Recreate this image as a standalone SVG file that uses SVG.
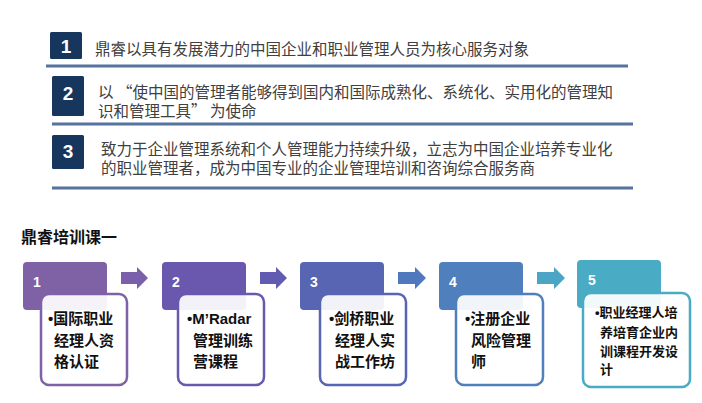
<svg xmlns="http://www.w3.org/2000/svg" width="702" height="403" viewBox="0 0 702 403">
<style>
.num{fill:#17365d}
.numt{fill:#fff;font-family:"Liberation Sans",Arial,sans-serif;font-size:19px;font-weight:bold;text-anchor:middle}
.rule{stroke:#56739f;stroke-width:3}
.txt{fill:#404040;font-family:"Noto Sans CJK SC","Noto Sans",sans-serif;font-size:15.5px}
.title{fill:#111;font-family:"Noto Sans CJK SC",sans-serif;font-size:16px;font-weight:bold}
.hnum{fill:#fff;font-family:"Liberation Sans",Arial,sans-serif;font-size:14px;font-weight:bold}
.card{fill:#fff;fill-opacity:0.92;stroke-width:2.5}
.ct{fill:#111;font-family:"Noto Sans CJK SC",sans-serif;font-size:15px;font-weight:bold}
.ct5{fill:#111;font-family:"Noto Sans CJK SC",sans-serif;font-size:13px;font-weight:bold}
.b{font-family:"Liberation Sans",Arial,sans-serif}
</style>
<rect width="702" height="403" fill="#fff"/>
<g id="item1">
<rect class="num" x="50" y="32" width="32" height="27" rx="1.5"/>
<text class="numt" x="66" y="53" font-weight="normal">1</text>
<text class="txt" x="95" y="55">鼎睿以具有发展潜力的中国企业和职业管理人员为核心服务对象</text>
<line class="rule" x1="46" y1="66" x2="628" y2="66"/>
</g>
<g id="item2">
<rect class="num" x="52" y="76" width="32" height="40" rx="1.5"/>
<text class="numt" x="68" y="100">2</text>
<text class="txt" x="98" y="98">以 “使中国的管理者能够得到国内和国际成熟化、系统化、实用化的管理知</text>
<text class="txt" x="98" y="117">识和管理工具” 为使命</text>
<line class="rule" x1="52" y1="124" x2="633" y2="124"/>
</g>
<g id="item3">
<rect class="num" x="52" y="135" width="32" height="34" rx="1.5"/>
<text class="numt" x="68" y="158">3</text>
<text class="txt" x="101" y="155">致力于企业管理系统和个人管理能力持续升级，立志为中国企业培养专业化</text>
<text class="txt" x="101" y="174">的职业管理者，成为中国专业的企业管理培训和咨询综合服务商</text>
<line class="rule" x1="52" y1="188" x2="633" y2="188"/>
</g>
<text class="title" x="21" y="243">鼎睿培训课一</text>
<g id="connectors">
<path d="M121,272 H137 V267 L148,278 L137,289 V284 H121 Z" fill="#7a5faa"/>
<path d="M260,272 H276 V267 L287,278 L276,289 V284 H260 Z" fill="#615cb2"/>
<path d="M398,272 H415 V267 L426,278 L415,289 V284 H398 Z" fill="#5078bd"/>
<path d="M537,272 H554 V267 L565,278 L554,289 V284 H537 Z" fill="#4ba6c5"/>
</g>
<g id="step1">
<rect x="23" y="262" width="84" height="48" rx="4" fill="#7f62a6"/>
<text class="hnum" x="33" y="287">1</text>
<rect class="card" x="41" y="294" width="86" height="91" rx="8" stroke="#7f62a6"/>
<text class="ct" x="48" y="324"><tspan class="b">•</tspan>国际职业</text>
<text class="ct" x="54" y="346">经理人资</text>
<text class="ct" x="54" y="367">格认证</text>
</g>
<g id="step2">
<rect x="162" y="262" width="84" height="48" rx="4" fill="#6a58ae"/>
<text class="hnum" x="172" y="287">2</text>
<rect class="card" x="178" y="294" width="86" height="91" rx="8" stroke="#6a58ae"/>
<text class="ct" x="187" y="324"><tspan class="b">•M’Radar</tspan></text>
<text class="ct" x="193" y="346">管理训练</text>
<text class="ct" x="193" y="367">营课程</text>
</g>
<g id="step3">
<rect x="300" y="262" width="84" height="48" rx="4" fill="#5865b3"/>
<text class="hnum" x="310" y="287">3</text>
<rect class="card" x="320" y="294" width="86" height="91" rx="8" stroke="#5865b3"/>
<text class="ct" x="329" y="324"><tspan class="b">•</tspan>剑桥职业</text>
<text class="ct" x="335" y="346">经理人实</text>
<text class="ct" x="335" y="367">战工作坊</text>
</g>
<g id="step4">
<rect x="439" y="262" width="84" height="48" rx="4" fill="#4f80bd"/>
<text class="hnum" x="449" y="287">4</text>
<rect class="card" x="456" y="294" width="87" height="91" rx="8" stroke="#4f80bd"/>
<text class="ct" x="465" y="324"><tspan class="b">•</tspan>注册企业</text>
<text class="ct" x="471" y="346">风险管理</text>
<text class="ct" x="471" y="367">师</text>
</g>
<g id="step5">
<rect x="577" y="260" width="84" height="48" rx="4" fill="#4aabc4"/>
<text class="hnum" x="588" y="285">5</text>
<rect class="card" x="583" y="293" width="107" height="94" rx="8" stroke="#4aabc4"/>
<text class="ct5" x="595" y="317"><tspan class="b">•</tspan>职业经理人培</text>
<text class="ct5" x="600" y="337">养培育企业内</text>
<text class="ct5" x="600" y="356">训课程开发设</text>
<text class="ct5" x="600" y="374">计</text>
</g>
</svg>
